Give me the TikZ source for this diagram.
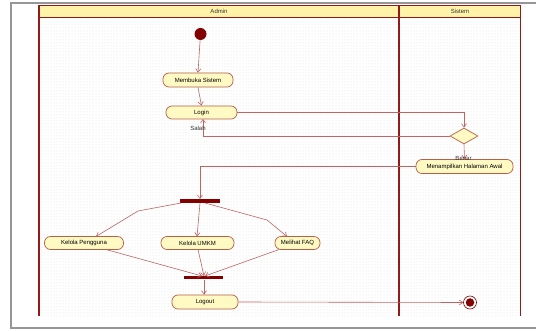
\documentclass[tikz,border=0pt]{standalone}
\usepackage{fontspec}
\setmainfont{Liberation Sans}
\usetikzlibrary{arrows.meta,shapes.geometric,patterns}
\definecolor{lane}{RGB}{150,25,25}
\definecolor{hdr}{RGB}{255,243,170}
\definecolor{actfill}{RGB}{255,250,195}
\definecolor{actdraw}{RGB}{185,95,70}
\definecolor{flow}{RGB}{190,100,100}
\definecolor{bar}{RGB}{130,0,0}
\definecolor{frame}{RGB}{150,150,150}
\tikzset{
  act/.style={draw=actdraw, fill=actfill, rounded corners=6pt, minimum height=13pt, inner sep=0pt, font=\fontsize{6}{7}\selectfont, line width=0.7pt},
  flowline/.style={draw=flow, line width=0.6pt, -{Straight Barb[length=3.5pt,width=5pt]}},
  barbox/.style={fill=bar, minimum height=3.5pt, inner sep=0pt},
  lbl/.style={font=\fontsize{6}{7}\selectfont, inner sep=0pt, text=black!80},
  lanestyle/.style={draw=lane, line width=1.3pt}
}
\begin{document}
\begin{tikzpicture}[x=1pt,y=-1pt]
\useasboundingbox (0,0) rectangle (536,331);
% outer frame
\draw[frame, line width=1.2pt] (536,3) -- (11,3) -- (11,328) -- (536,328);
% lanes background
\fill[white] (39,17) rectangle (520.5,316.5);
\fill[pattern=dots, pattern color=black!12] (39,17) rectangle (520.5,316.5);
\fill[hdr] (39,5.5) rectangle (520.5,17);
\draw[lane, line width=0.8pt] (39,17) -- (520.5,17);
\draw[lanestyle] (39,316.5) -- (39,5.5) -- (520.5,5.5) -- (520.5,316.5);
\draw[lanestyle] (399,5.5) -- (399,316.5);
\node[lbl] (hadmin) at (219,11.5) {Admin};
\node[lbl] (hsistem) at (460,11.5) {Sistem};
% nodes
\node[circle, fill=bar, minimum size=12pt, inner sep=0pt] (start) at (200.5,34) {};
\node[act, minimum width=70pt, minimum height=14pt] (buka) at (198,80) {Membuka Sistem};
\node[act, minimum width=71pt] (login) at (201.5,112.5) {Login};
\node[diamond, draw=actdraw, fill=actfill, minimum width=28pt, minimum height=16pt, inner sep=0pt, line width=0.7pt] (dec) at (464,136) {};
\node[act, minimum width=97pt, minimum height=14pt] (awal) at (464.5,166.5) {Menampilkan Halaman Awal};
\node[barbox, minimum width=40pt] (fork) at (199.5,201) {};
\node[act, minimum width=79pt] (peng) at (84,243) {Kelola Pengguna};
\node[act, minimum width=73pt] (umkm) at (197.5,243) {Kelola UMKM};
\node[act, minimum width=45pt] (faq) at (297.5,243) {Melihat FAQ};
\node[barbox, minimum width=39pt] (join) at (203.5,277.7) {};
\node[act, minimum width=66pt, minimum height=14pt] (logout) at (205,302) {Logout};
\node[circle, draw=bar, fill=white, minimum size=13pt, inner sep=0pt, line width=0.6pt] (end) at (470,302.5) {};
\node[circle, fill=bar, minimum size=8.5pt, inner sep=0pt] (endin) at (470,302.5) {};
% edges
\draw[flowline] (start) -- (buka.north);
\draw[flowline] (buka.south) -- (login.north);
\draw[flowline] (login.east) -- (login.east -| dec.north) -- (dec.north);
\draw[flowline] (dec.west) -- (203,136) -- (203,119);
\node[lbl] (salah) at (198,128.5) {Salah};
\draw[flowline] (dec.south) -- (awal.north);
\node[lbl] (benar) at (463.5,158.5) {Benar};
\draw[flowline] (awal.west) -- (200,166.5) -- (fork.north -| 200,0);
\draw[flowline] (181,203) -- (138,211) -- (96,236.5);
\draw[flowline] (200,203) -- (197,236.5);
\draw[flowline] (205,203) -- (267,220) -- (287,236.5);
\draw[flowline] (106,249.5) -- (202,276);
\draw[flowline] (198,249.5) -- (204,276);
\draw[flowline] (279,249.5) -- (205,276);
\draw[flowline] (join.south -| 204,0) -- (logout.north -| 204,0);
\draw[flowline] (logout.east) -- (end.west);
\end{tikzpicture}
\end{document}
